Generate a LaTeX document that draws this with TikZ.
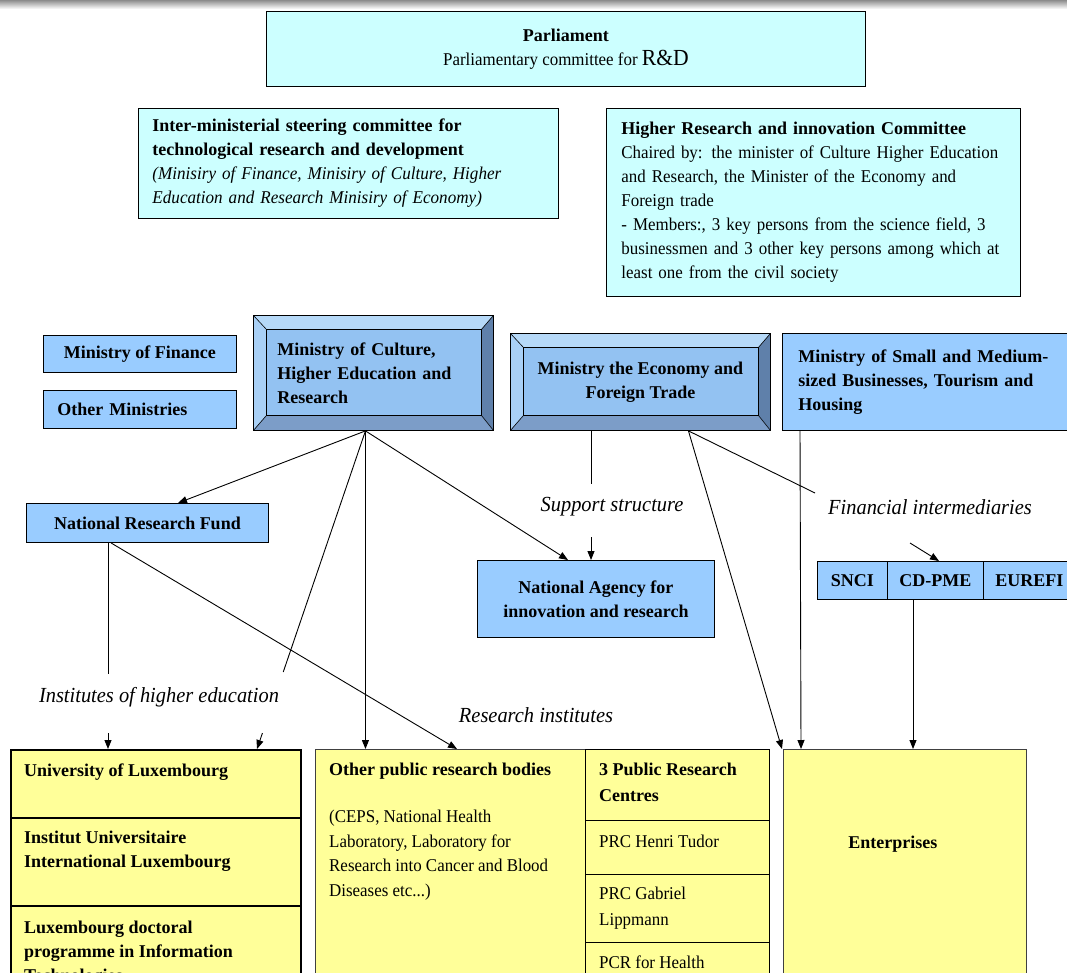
\documentclass[tikz,border=0pt]{standalone}
\usepackage{fontspec}
\setmainfont{Liberation Serif}[UprightFeatures={FakeStretch=0.94},ItalicFeatures={FakeStretch=0.95}]
\usetikzlibrary{calc,arrows.meta}
\definecolor{cyanbox}{HTML}{CCFFFF}
\definecolor{bluebox}{HTML}{99CCFF}
\definecolor{bevtop}{HTML}{B6D9F8}
\definecolor{bevleft}{HTML}{A9D0F6}
\definecolor{bevright}{HTML}{5F80AA}
\definecolor{bevbot}{HTML}{7C9DC8}
\definecolor{bevface}{HTML}{93C2F2}
\definecolor{yelbox}{HTML}{FFFF99}
\begin{document}
\begin{tikzpicture}[x=1pt,y=-1pt,
  box/.style={draw=black, line width=0.9pt, inner sep=0pt, anchor=north west,
    font=\fontsize{18}{24}\selectfont},
  cyanb/.style={box, fill=cyanbox},
  blueb/.style={box, fill=bluebox},
  yelb/.style={box, fill=yelbox},
  bevel/.style={box, fill=bevface, path picture={
    \coordinate (bNW) at (path picture bounding box.north west);
    \coordinate (bNE) at (path picture bounding box.north east);
    \coordinate (bSE) at (path picture bounding box.south east);
    \coordinate (bSW) at (path picture bounding box.south west);
    \coordinate (iNW) at ($(bNW)+(13,14)$);
    \coordinate (iNE) at ($(bNE)+(-12,14)$);
    \coordinate (iSE) at ($(bSE)+(-12,-15)$);
    \coordinate (iSW) at ($(bSW)+(13,-15)$);
    \fill[bevtop] (bNW) -- (bNE) -- (iNE) -- (iNW) -- cycle;
    \fill[bevleft] (bNW) -- (bSW) -- (iSW) -- (iNW) -- cycle;
    \fill[bevright] (bNE) -- (bSE) -- (iSE) -- (iNE) -- cycle;
    \fill[bevbot] (bSW) -- (bSE) -- (iSE) -- (iSW) -- cycle;
    \draw[line width=0.6pt] (iNW) rectangle (iSE);
    \draw[line width=0.6pt] (bNW) -- (iNW) (bNE) -- (iNE) (bSE) -- (iSE) (bSW) -- (iSW);
  }},
  tx/.style={inner sep=0pt, anchor=north west, align=left, font=\fontsize{18}{24}\selectfont},
  lbl/.style={inner sep=1pt, font=\fontsize{21.5}{24}\selectfont\itshape},
  arr/.style={line width=0.9pt, -{Triangle[length=9pt,width=7pt]}},
  ln/.style={line width=0.9pt}
]
\useasboundingbox (0,0) rectangle (1067,973);
\clip (0,0) rectangle (1067,973);
\fill[white] (0,0) rectangle (1067,973);
\shade[top color=black!45, bottom color=white] (0,0) rectangle (1067,9);

% --- top committees
\node[cyanb, minimum width=599, minimum height=75, align=center,
  font=\fontsize{18}{24}\selectfont] (parl) at (266,11)
  {\textbf{Parliament}\\Parliamentary committee for {\fontsize{23}{24}\selectfont R\&D}};
\node[cyanb, minimum width=420, minimum height=110, inner xsep=14pt, text width=392,
  align=left] (inter) at (138,108)
  {\textbf{Inter-ministerial steering committee for}\\
   \textbf{technological research and development}\\
   \textit{(Minisiry of Finance, Minisiry of Culture, Higher}\\
   \textit{Education and Research Minisiry of Economy)}};
\node[cyanb, minimum width=414, minimum height=188, inner xsep=15pt, text width=384,
  align=left] (hric) at (606,108)
  {\textbf{Higher Research and innovation Committee}\\
   Chaired by: the minister of Culture Higher Education\\
   and Research, the Minister of the Economy and\\
   Foreign trade\\
   - Members:, 3 key persons from the science field, 3\\
   businessmen and 3 other key persons among which at\\
   least one from the civil society};

% --- ministries
\node[blueb, minimum width=193, minimum height=37, font=\fontsize{18}{24}\selectfont\bfseries]
  (fin) at (43,335) {Ministry of Finance};
\node[blueb, minimum width=193, minimum height=38, inner xsep=14pt, text width=165,
  align=left, font=\fontsize{18}{24}\selectfont\bfseries] (oth) at (43,390) {Other Ministries};
\node[bevel, minimum width=240, minimum height=115, inner xsep=24pt, text width=192,
  align=left] (cul) at (253,315)
  {\textbf{Ministry of Culture,}\\\textbf{Higher Education and}\\\textbf{Research}};
\node[bevel, minimum width=260, minimum height=97, align=center] (eco) at (510,333)
  {\textbf{Ministry the Economy and}\\\textbf{Foreign Trade}};
\node[blueb, minimum width=300, minimum height=97, inner xsep=16pt, text width=268,
  align=left] (sme) at (782,333)
  {\textbf{Ministry of Small and Medium-}\\\textbf{sized Businesses, Tourism and}\\\textbf{Housing}};

% --- middle level
\node[blueb, minimum width=242, minimum height=39, font=\fontsize{18}{24}\selectfont\bfseries]
  (nrf) at (26,503) {National Research Fund};
\node[blueb, minimum width=237, minimum height=77, align=center] (ana) at (477,560)
  {\textbf{National Agency for}\\\textbf{innovation and research}};
\node[blueb, minimum width=70, minimum height=38, font=\fontsize{18}{24}\selectfont\bfseries]
  (snci) at (817,561) {SNCI};
\node[blueb, minimum width=96, minimum height=38, font=\fontsize{18}{24}\selectfont\bfseries]
  (cdpme) at (887,561) {CD-PME};
\node[blueb, minimum width=92, minimum height=38, font=\fontsize{18}{24}\selectfont\bfseries]
  (eurefi) at (983,561) {EUREFI};

% --- labels
\node[lbl] (lsup) at (612,507) {Support structure};
\node[lbl] (lfin) at (930,507) {Financial intermediaries};
\node[lbl] (linst) at (159,697) {Institutes of higher education};
\node[lbl] (lres) at (536,715) {Research institutes};

% --- bottom boxes
\node[yelb, line width=1.6pt, minimum width=290, minimum height=68] (u1) at (10,749) {};
\node[yelb, line width=1.6pt, minimum width=290, minimum height=88] (u2) at (10,817) {};
\node[yelb, line width=1.6pt, minimum width=290, minimum height=100] (u3) at (10,905) {};
\node[tx, font=\fontsize{18}{24}\selectfont\bfseries] (u1t) at ($(u1.north west)+(14,15)$)
  {University of Luxembourg};
\node[tx, font=\fontsize{18}{24}\selectfont\bfseries] (u2t) at ($(u2.north west)+(14,14)$)
  {Institut Universitaire\\International Luxembourg};
\node[tx, font=\fontsize{18}{24}\selectfont\bfseries] (u3t) at ($(u3.north west)+(14,16)$)
  {Luxembourg doctoral\\programme in Information\\Technologies};

\node[yelb, draw=black!75, minimum width=270, minimum height=240] (opb) at (315,749) {};
\node[tx, font=\fontsize{18}{24}\selectfont\bfseries] (opbt) at ($(opb.north west)+(14,14)$)
  {Other public research bodies};
\node[tx, font=\fontsize{18}{24.6}\selectfont] (opbb) at ($(opb.north west)+(14,61)$)
  {(CEPS, National Health\\Laboratory, Laboratory for\\Research into Cancer and Blood\\Diseases etc...)};

\node[yelb, minimum width=184, minimum height=71] (p1) at (585,749) {};
\node[yelb, minimum width=184, minimum height=54] (p2) at (585,820) {};
\node[yelb, minimum width=184, minimum height=68] (p3) at (585,874) {};
\node[yelb, minimum width=184, minimum height=60] (p4) at (585,942) {};
\node[tx, font=\fontsize{18}{26}\selectfont\bfseries] (p1t) at ($(p1.north west)+(14,14)$)
  {3 Public Research\\Centres};
\node[tx] (p2t) at ($(p2.north west)+(14,15)$) {PRC Henri Tudor};
\node[tx, font=\fontsize{18}{26}\selectfont] (p3t) at ($(p3.north west)+(14,13)$)
  {PRC Gabriel\\Lippmann};
\node[tx] (p4t) at ($(p4.north west)+(14,14)$) {PCR for Health};

\node[yelb, draw=black!75, minimum width=243, minimum height=240] (ent) at (783,749) {};
\node[font=\fontsize{18}{24}\selectfont\bfseries] (entt) at ($(ent.north)+(-12,95)$) {Enterprises};

% --- connectors
\coordinate (cA) at ($(cul.south)+(-8,0)$);
\coordinate (eA) at ($(eco.south)+(48,0)$);
\coordinate (nA) at ($(nrf.south west)+(82,0)$);

\draw[arr] (cA) -- ($(nrf.north west)+(152,0)$);
\coordinate (uIn) at ($(u1.north west)+(247,0)$);
\draw[ln] (cA) -- ($(cA)!0.758!(uIn)$);
\draw[arr] ($(cA)!0.95!(uIn)$) -- (uIn);
\draw[arr] (cA) -- (cA |- opb.north);
\draw[arr] (cA) -- ($(ana.north west)+(91,0)$);

\draw[ln] (nA) -- ++(0,131);
\draw[arr] ($(nA |- u1.north)+(0,-16)$) -- (nA |- u1.north);
\draw[arr] ($(nA)+(3,0)$) -- ($(opb.north west)+(142,0)$);

\coordinate (eV) at ($(eco.south west)+(81,0)$);
\draw[ln] (eV) -- ++(0,53);
\draw[arr] ($(eV |- ana.north)+(0,-23)$) -- (eV |- ana.north);
\draw[arr] (eA) -- ($(ent.north west)+(-1,0)$);
\draw[ln] (eA) -- (815,493);
\coordinate (fA) at (910,543);
\draw[arr] (fA) -- ($(cdpme.north west)+(52,0)$);

\draw[arr] ($(sme.south west)+(18,0)$) -- ($(ent.north west)+(18,0)$);
\draw[arr] ($(cdpme.south west)+(26,0)$) -- ($(ent.north west)+(130,0)$);
\end{tikzpicture}
\end{document}
